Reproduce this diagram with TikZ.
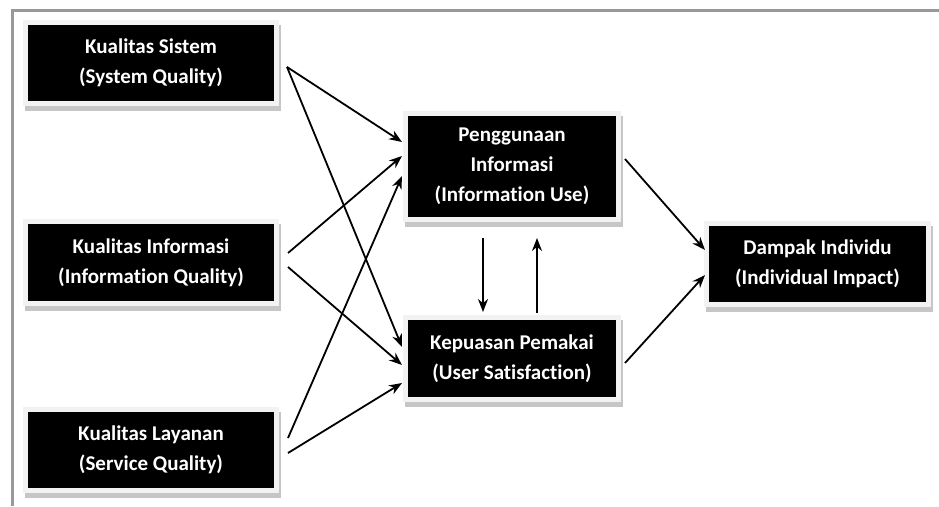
\documentclass[tikz,border=0pt]{standalone}
\usepackage{fontspec}
\setmainfont{Carlito}[Ligatures={NoCommon}]
\usetikzlibrary{positioning, arrows.meta, shadows}
\tikzset{>={Stealth[length=13pt,width=10pt]},
blk/.style={fill=black, text=white, align=center, inner sep=0pt, outer sep=0pt,
  font=\bfseries\fontsize{21}{30}\selectfont,
  general shadow={fill=gray!45, draw=gray!45, line width=10pt, shadow xshift=2pt, shadow yshift=-5pt},
  preaction={draw=gray!10, line width=10pt}},
lnk/.style={->, line width=1.8pt}
}

\begin{document}
\begin{tikzpicture}[x=1pt,y=1pt]
\useasboundingbox (0,0) rectangle (939,-506);
% frame
\draw[gray!80, line width=3pt] (12.5,-506) -- (12.5,-10.5) -- (939,-10.5);
% left column
\node[blk,minimum width=246pt,minimum height=76pt] (sis) at (151,-63) {Kualitas Sistem\\(System Quality)};
\node[blk,minimum width=246pt,minimum height=77pt,below=123pt of sis] (inf) {Kualitas Informasi\\(Information Quality)};
\node[blk,minimum width=246pt,minimum height=76pt,below=111pt of inf] (lay) {Kualitas Layanan\\(Service Quality)};
% middle
\node[blk,minimum width=208pt,minimum height=101pt,below right=15pt and 134pt of sis] (use) {Penggunaan\\Informasi\\(Information Use)};
\node[blk,minimum width=208pt,minimum height=77pt,below=103pt of use] (sat) {Kepuasan Pemakai\\(User Satisfaction)};
% right
\node[blk,minimum width=217pt,minimum height=76pt,below right=9pt and 93pt of use] (imp) {Dampak Individu\\(Individual Impact)};

\draw[lnk] ([shift={(13pt,-4pt)}]sis.east) -- ([shift={(-6pt,24.5pt)}]use.west);
\draw[lnk] ([shift={(13pt,-4pt)}]sis.east) -- ([shift={(-6pt,11.5pt)}]sat.west);
\draw[lnk] ([shift={(14pt,9.5pt)}]inf.east) -- ([shift={(-6pt,10.5pt)}]use.west);
\draw[lnk] ([shift={(14pt,-4.5pt)}]inf.east) -- ([shift={(-6pt,-6.5pt)}]sat.west);
\draw[lnk] ([shift={(14pt,12pt)}]lay.east) -- ([shift={(-6pt,-9.5pt)}]use.west);
\draw[lnk] ([shift={(14pt,-3pt)}]lay.east) -- ([shift={(-6pt,-24.5pt)}]sat.west);
\draw[lnk] ([shift={(-29pt,-21pt)}]use.south) -- ([shift={(-29pt,8pt)}]sat.north);
\draw[lnk] ([shift={(25pt,7pt)}]sat.north) -- ([shift={(25pt,-21pt)}]use.south);
\draw[lnk] ([shift={(9pt,7.5pt)}]use.east) -- ([shift={(-4pt,14pt)}]imp.west);
\draw[lnk] ([shift={(9pt,-4.5pt)}]sat.east) -- ([shift={(-4pt,-11pt)}]imp.west);
\end{tikzpicture}
\end{document}
